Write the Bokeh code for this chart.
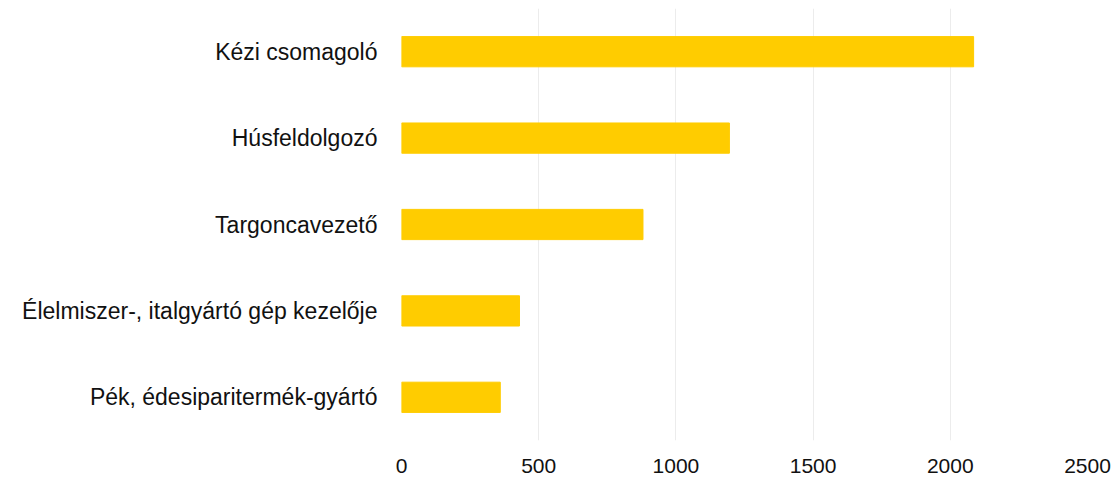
from bokeh.plotting import figure
from bokeh.models import ColumnDataSource, FactorRange, Range1d, FixedTicker
from bokeh.embed import file_html
from bokeh.resources import INLINE

categories = ["Kézi csomagoló", "Húsfeldolgozó", "Targoncavezető",
              "Élelmiszer-, italgyártó gép kezelője", "Pék, édesiparitermék-gyártó"]
values = [2085, 1195, 880, 430, 360]
x_ticks = [0, 500, 1000, 1500, 2000, 2500]

cats_rev = categories[::-1]
vals_rev = values[::-1]
src = ColumnDataSource(dict(cat=cats_rev, val=vals_rev))

p = figure(width=1115, height=479, output_backend="svg", toolbar_location=None,
           y_range=FactorRange(*cats_rev, range_padding=0), x_range=Range1d(0, 2500),
           min_border_left=401, min_border_right=28, min_border_top=8, min_border_bottom=39)
p.hbar(y="cat", right="val", left=0, height=0.35, source=src, color="#FFCC00")

p.outline_line_color = None
p.background_fill_color = "white"
p.border_fill_color = "white"

p.ygrid.grid_line_color = None
p.xgrid.grid_line_color = "#ececec"
p.xgrid.grid_line_width = 1
p.xaxis.ticker = FixedTicker(ticks=x_ticks)

for ax in (p.xaxis, p.yaxis):
    ax.axis_line_color = None
    ax.major_tick_line_color = None
    ax.minor_tick_line_color = None
    ax.major_label_text_font = "Liberation Sans"
    ax.major_label_text_color = "#111111"

p.yaxis.major_label_text_font_size = "23px"
p.xaxis.major_label_text_font_size = "21px"
p.yaxis.major_label_standoff = 18
p.xaxis.major_label_standoff = 12

open("out.html", "w").write(file_html(p, INLINE))
